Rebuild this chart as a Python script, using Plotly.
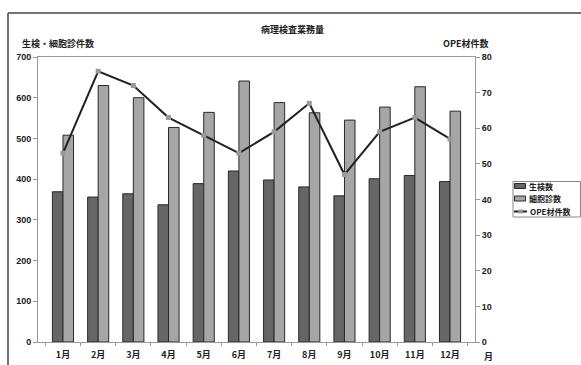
import plotly.graph_objects as go

months = ["1月", "2月", "3月", "4月", "5月", "6月", "7月", "8月", "9月", "10月", "11月", "12月"]
biopsy = [369, 356, 364, 337, 389, 420, 398, 381, 359, 401, 409, 394]
cytology = [508, 630, 600, 527, 564, 641, 588, 563, 545, 577, 627, 567]
ope = [53, 76, 72, 63, 58, 53, 59, 67, 47, 59, 63, 57]

W, H = 581, 365
L, R, T, B = 38, 106, 57, 23
pw, ph = W - L - R, H - T - B


def px(x):
    return (x - L) / pw


def py(y):
    return (H - B - y) / ph


JP = "Noto Sans CJK JP"
TXT = "#222222"
DARK, LIGHT, EDGE = "#666666", "#a6a6a6", "#2a2a2a"
LINE, MARK = "#222222", "#9a9a9a"
tick_font = dict(family="Liberation Sans", size=9, color=TXT, weight="bold")

fig = go.Figure()
fig.add_trace(go.Bar(
    x=months, y=biopsy, name="生検数",
    marker=dict(color=DARK, line=dict(color=EDGE, width=1)),
))
fig.add_trace(go.Bar(
    x=months, y=cytology, name="細胞診数",
    marker=dict(color=LIGHT, line=dict(color=EDGE, width=1)),
))
fig.add_trace(go.Scatter(
    x=months, y=ope, name="OPE材件数", yaxis="y2", mode="lines+markers",
    line=dict(color=LINE, width=2),
    marker=dict(symbol="square", size=5, color=MARK),
))

annotations = [
    dict(text="病理検査業務量", x=px(292), y=py(30), xanchor="center", yanchor="middle"),
    dict(text="生検・細胞診件数", x=px(20), y=py(43), xanchor="left", yanchor="middle"),
    dict(text="OPE材件数", x=px(490), y=py(43), xanchor="right", yanchor="middle"),
    dict(text="月", x=px(488), y=py(356), xanchor="center", yanchor="middle"),
]
for a in annotations:
    a.update(font=dict(family=JP, size=9, color=TXT, weight="bold"))

# outer frame of the chart (top and left edges fall inside the page)
FRAME = dict(color="#444444", width=1.5)
shapes = [
    dict(type="line", x0=px(8), x1=px(581), y0=py(13), y1=py(13), line=FRAME),
    dict(type="line", x0=px(8), x1=px(8), y0=py(13), y1=py(365), line=FRAME),
]

# compact legend box on the right
shapes.append(dict(type="rect", x0=px(513), x1=px(580.5), y0=py(217), y1=py(181.5),
                   line=dict(color="#888888", width=1), fillcolor="white"))
rows = [186, 198.5, 211.5]
for name, color, yc in [("生検数", DARK, rows[0]), ("細胞診数", LIGHT, rows[1])]:
    shapes.append(dict(type="rect", x0=px(514.5), x1=px(525.5), y0=py(yc + 2.5), y1=py(yc - 2.5),
                       line=dict(color=EDGE, width=1), fillcolor=color))
    annotations.append(dict(text=name, x=px(527), y=py(yc), xanchor="left", yanchor="middle",
                            font=dict(family=JP, size=8, color=TXT, weight="bold")))
shapes.append(dict(type="line", x0=px(514), x1=px(527), y0=py(rows[2]), y1=py(rows[2]),
                   line=dict(color=LINE, width=2)))
shapes.append(dict(type="rect", x0=px(518.5), x1=px(522.5), y0=py(rows[2] + 2), y1=py(rows[2] - 2),
                   line=dict(width=0), fillcolor=MARK))
annotations.append(dict(text="OPE材件数", x=px(528), y=py(rows[2]), xanchor="left", yanchor="middle",
                        font=dict(family=JP, size=8, color=TXT, weight="bold")))

for a in annotations:
    a.update(xref="paper", yref="paper", showarrow=False)
for s in shapes:
    s.update(xref="paper", yref="paper")

fig.update_layout(
    width=W, height=H,
    margin=dict(l=L, r=R, t=T, b=B, autoexpand=False),
    paper_bgcolor="white", plot_bgcolor="white",
    barmode="group", bargap=0.4, bargroupgap=0,
    showlegend=False,
    xaxis=dict(
        type="category", tickson="boundaries", ticks="outside", ticklen=3,
        tickcolor="#999", showline=True, linecolor="#999", mirror=True,
        tickfont=dict(family=JP, size=9, color=TXT, weight="bold"),
        ticklabelstandoff=4, showgrid=False,
    ),
    yaxis=dict(
        range=[0, 700], dtick=100, ticks="outside", ticklen=4, tickcolor="#999",
        showline=True, linecolor="#999", showgrid=False, zeroline=False,
        tickfont=tick_font,
    ),
    yaxis2=dict(
        range=[0, 80], dtick=10, overlaying="y", side="right",
        ticks="outside", ticklen=4, tickcolor="#999",
        showline=True, linecolor="#999", showgrid=False, zeroline=False,
        tickfont=tick_font,
    ),
    annotations=annotations,
    shapes=shapes,
)

fig.write_html("out.html")
